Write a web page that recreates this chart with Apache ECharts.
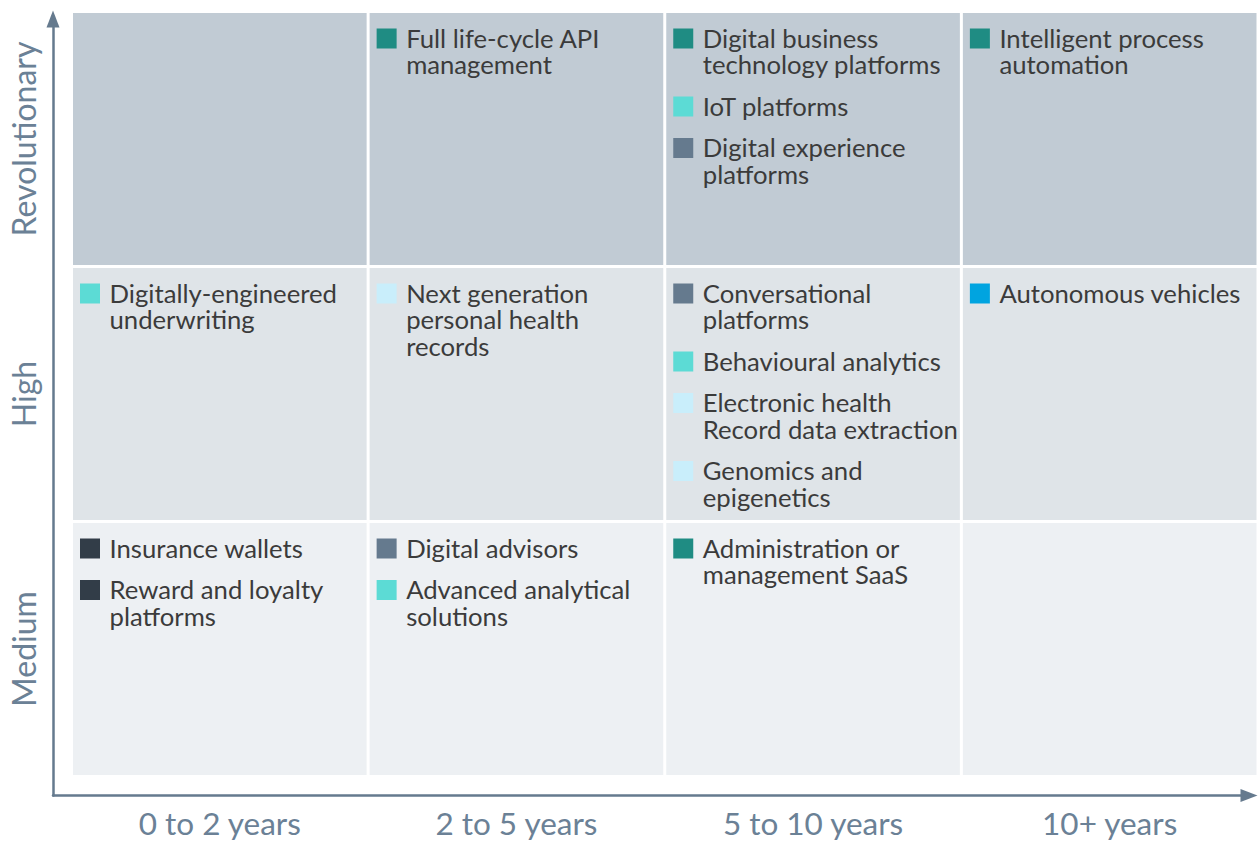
<!DOCTYPE html>
<html>
<head>
<meta charset="utf-8">
<script src="https://cdn.jsdelivr.net/npm/echarts@6/dist/echarts.min.js"></script>
<style>
  html, body { margin: 0; padding: 0; background: #ffffff; }
  #chart { width: 1258px; height: 844px; }
</style>
</head>
<body>
<div id="chart"></div>
<script>
// ---- Data ----
const columns = ['0 to 2 years', '2 to 5 years', '5 to 10 years', '10+ years'];
const rows = ['Medium', 'High', 'Revolutionary'];           // bottom to top
const rowColors = ['#edf0f3', '#dfe4e8', '#c1cbd4'];

const itemNames = [
  'Full life-cycle API\nmanagement',
  'Digital business\ntechnology platforms',
  'IoT platforms',
  'Digital experience\nplatforms',
  'Intelligent process\nautomation',
  'Digitally-engineered\nunderwriting',
  'Next generation\npersonal health\nrecords',
  'Conversational\nplatforms',
  'Behavioural analytics',
  'Electronic health\nRecord data extraction',
  'Genomics and\nepigenetics',
  'Autonomous vehicles',
  'Insurance wallets',
  'Reward and loyalty\nplatforms',
  'Digital advisors',
  'Advanced analytical\nsolutions',
  'Administration or\nmanagement SaaS'
];
const itemCols = [1, 2, 2, 2, 3, 0, 1, 2, 2, 2, 2, 3, 0, 0, 1, 1, 2];
const itemRows = [2, 2, 2, 2, 2, 1, 1, 1, 1, 1, 1, 1, 0, 0, 0, 0, 0];
const itemGroups = ['teal', 'teal', 'turquoise', 'slate', 'teal', 'turquoise', 'lightblue',
  'slate', 'turquoise', 'lightblue', 'lightblue', 'blue', 'dark', 'dark', 'slate', 'turquoise', 'teal'];
const groupColors = {
  teal: '#1f8c83',
  turquoise: '#5cdbd5',
  slate: '#657a8e',
  lightblue: '#c9eefb',
  blue: '#00a4e0',
  dark: '#323d48'
};

// ---- Build series data ----
const cellData = [];
for (let r = 0; r < rows.length; r++) {
  for (let c = 0; c < columns.length; c++) cellData.push([c, r]);
}
const cellCount = {};
const cellLines = {};
const itemData = itemNames.map((name, i) => {
  const key = itemCols[i] + '_' + itemRows[i];
  const idx = cellCount[key] || 0;
  const linesBefore = cellLines[key] || 0;
  cellCount[key] = idx + 1;
  cellLines[key] = linesBefore + name.split('\n').length;
  return [itemCols[i], itemRows[i], linesBefore, idx, i];
});

const FONT = 'Lato, "Open Sans", sans-serif';
const LINE_H = 26.5;
const ITEM_GAP = 15;
const SQ = 20;
const axisColor = '#657a8e';
const labelColor = '#6b8196';

const chart = echarts.init(document.getElementById('chart'), null, { renderer: 'svg' });
chart.setOption({
  animation: false,
  backgroundColor: '#ffffff',
  grid: [
    { left: 71.5, right: -1.5, top: 11.5, bottom: 67.5 },
    { left: 53, right: 9, top: 19, bottom: 48.5 }
  ],
  xAxis: [
    {
      gridIndex: 0, type: 'category', data: columns,
      axisLine: { show: false }, axisTick: { show: false }, splitLine: { show: false },
      axisLabel: { fontSize: 31.5, color: labelColor, margin: 30, fontFamily: FONT }
    },
    {
      gridIndex: 1, type: 'value', min: 0, max: 1,
      axisLine: { show: true, symbol: ['none', 'triangle'], symbolSize: [13, 17], lineStyle: { color: axisColor, width: 2.5 } },
      axisTick: { show: false }, axisLabel: { show: false }, splitLine: { show: false }
    }
  ],
  yAxis: [
    {
      gridIndex: 0, type: 'category', data: rows,
      axisLine: { show: false }, axisTick: { show: false }, splitLine: { show: false },
      axisLabel: { fontSize: 32, color: labelColor, margin: 32, rotate: 90, fontFamily: FONT }
    },
    {
      gridIndex: 1, type: 'value', min: 0, max: 1,
      axisLine: { show: true, symbol: ['none', 'triangle'], symbolSize: [13, 17], lineStyle: { color: axisColor, width: 2.5 } },
      axisTick: { show: false }, axisLabel: { show: false }, splitLine: { show: false }
    }
  ],
  series: [
    {
      type: 'custom', xAxisIndex: 0, yAxisIndex: 0, silent: true,
      data: cellData,
      renderItem: function (params, api) {
        const c = api.coord([api.value(0), api.value(1)]);
        const s = api.size([1, 1]);
        return {
          type: 'rect',
          shape: { x: c[0] - s[0] / 2 + 1.5, y: c[1] - s[1] / 2 + 1.5, width: s[0] - 3, height: s[1] - 3 },
          style: { fill: rowColors[api.value(1)] }
        };
      }
    },
    {
      type: 'custom', xAxisIndex: 0, yAxisIndex: 0, silent: true,
      data: itemData,
      renderItem: function (params, api) {
        const c = api.coord([api.value(0), api.value(1)]);
        const s = api.size([1, 1]);
        const left = c[0] - s[0] / 2 + 1.5;
        const top = c[1] - s[1] / 2 + 1.5;
        const i = api.value(4);
        const sqTop = top + 15.5 + api.value(2) * LINE_H + api.value(3) * ITEM_GAP;
        const centerY = sqTop + SQ / 2;
        return {
          type: 'group',
          children: [
            {
              type: 'rect',
              shape: { x: left + 7, y: sqTop, width: SQ, height: SQ },
              style: { fill: groupColors[itemGroups[i]] }
            },
            {
              type: 'text',
              x: left + 36.5, y: centerY - LINE_H / 2 - 1,
              style: {
                text: itemNames[i],
                fill: '#3b3b3b',
                fontSize: 25.7,
                fontFamily: FONT,
                lineHeight: LINE_H,
                verticalAlign: 'top',
                align: 'left'
              }
            }
          ]
        };
      }
    }
  ]
});
</script>
</body>
</html>
